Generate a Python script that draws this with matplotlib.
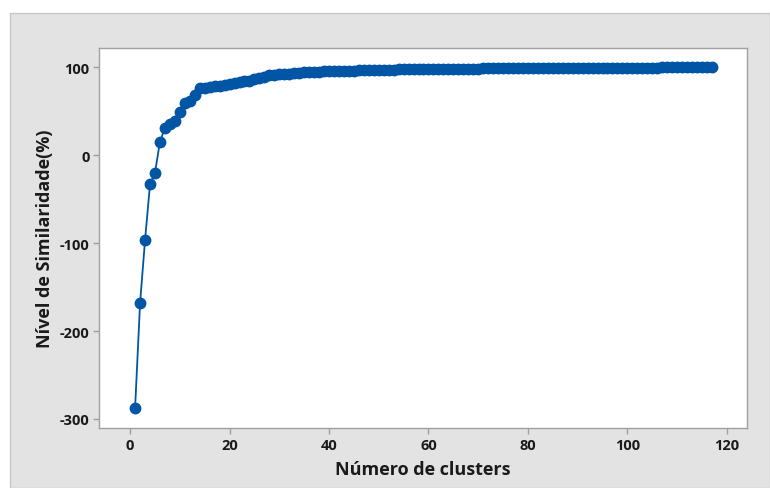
import matplotlib
matplotlib.use("Agg")
import matplotlib.pyplot as plt
from matplotlib.patches import Rectangle

# number of clusters (1..117) and similarity level (%)
clusters = list(range(1, 118))
similarity = [
    -287.5, -168, -96.5, -33, -20, 15.5, 31, 35, 39, 48.8,
    60, 61.3, 68.8, 76, 77, 77.8, 78.5, 79.2, 80, 81,
    82, 83, 84, 85, 86.5, 88, 89.5, 91, 91.5, 92,
    92.3, 92.7, 93.2, 93.8, 94.3, 94.8, 95, 95.2, 95.4, 95.5,
    95.6, 95.8, 96, 96.2, 96.4, 96.5, 96.6, 96.7, 96.8, 96.9,
    97, 97.2, 97.5, 97.8, 98, 98, 98, 98.1, 98.1, 98.1,
    98.2, 98.2, 98.2, 98.2, 98.3, 98.3, 98.3, 98.3, 98.3, 98.4,
    99, 99, 99, 99, 99.1, 99.1, 99.1, 99.1, 99.1, 99.2,
    99.2, 99.2, 99.2, 99.2, 99.2, 99.2, 99.3, 99.3, 99.3, 99.3,
    99.3, 99.3, 99.3, 99.3, 99.3, 99.4, 99.4, 99.4, 99.4, 99.4,
    99.4, 99.4, 99.4, 99.4, 99.4, 99.4, 100.5, 100.5, 100.6, 100.6,
    100.6, 100.7, 100.7, 100.7, 100.8, 100.8, 100.8,
]
xticks = [0, 20, 40, 60, 80, 100, 120]
yticks = [-300, -200, -100, 0, 100]

plt.rcParams["font.family"] = ["Open Sans", "DejaVu Sans"]
plt.rcParams["axes.unicode_minus"] = False

W, H = 770, 489
fig = plt.figure(figsize=(W / 100, H / 100), dpi=100, facecolor="white")

# grey minitab-style panel, behind the axes
panel = Rectangle((10 / W, 0), 1 - 10 / W, 1 - 14 / H,
                  transform=fig.transFigure, facecolor="#e3e3e3",
                  edgecolor="#c8c8c8", linewidth=1, zorder=-10)
fig.add_artist(panel)

left, right, top, bottom = 99.3, 746.7, 49, 429.3
ax = fig.add_axes([left / W, 1 - bottom / H, (right - left) / W, (bottom - top) / H])
ax.set_zorder(1)
ax.set_facecolor("white")

blue = "#0055a5"
ax.plot(clusters, similarity, color=blue, linewidth=1.3,
        marker="o", markersize=7.5, markerfacecolor=blue, markeredgecolor=blue)

ax.set_xlim(-6.2, 124)
ax.set_ylim(-310.6, 122)
ax.set_xticks(xticks)
ax.set_yticks(yticks)
ax.tick_params(axis="both", colors="#a0a0a0", length=4, width=1,
               labelcolor="#1a1a1a", labelsize=10.5, pad=3)
for lab in ax.get_xticklabels() + ax.get_yticklabels():
    lab.set_fontweight("bold")
for s in ax.spines.values():
    s.set_color("#a0a0a0")
    s.set_linewidth(1)

ax.set_xlabel("Número de clusters", fontsize=13, fontweight="bold",
              color="#1a1a1a", labelpad=6)
ax.set_ylabel("Nível de Similaridade(%)", fontsize=13, fontweight="bold",
              color="#1a1a1a", labelpad=4)

fig.savefig("out.png", dpi=100, facecolor="white")
